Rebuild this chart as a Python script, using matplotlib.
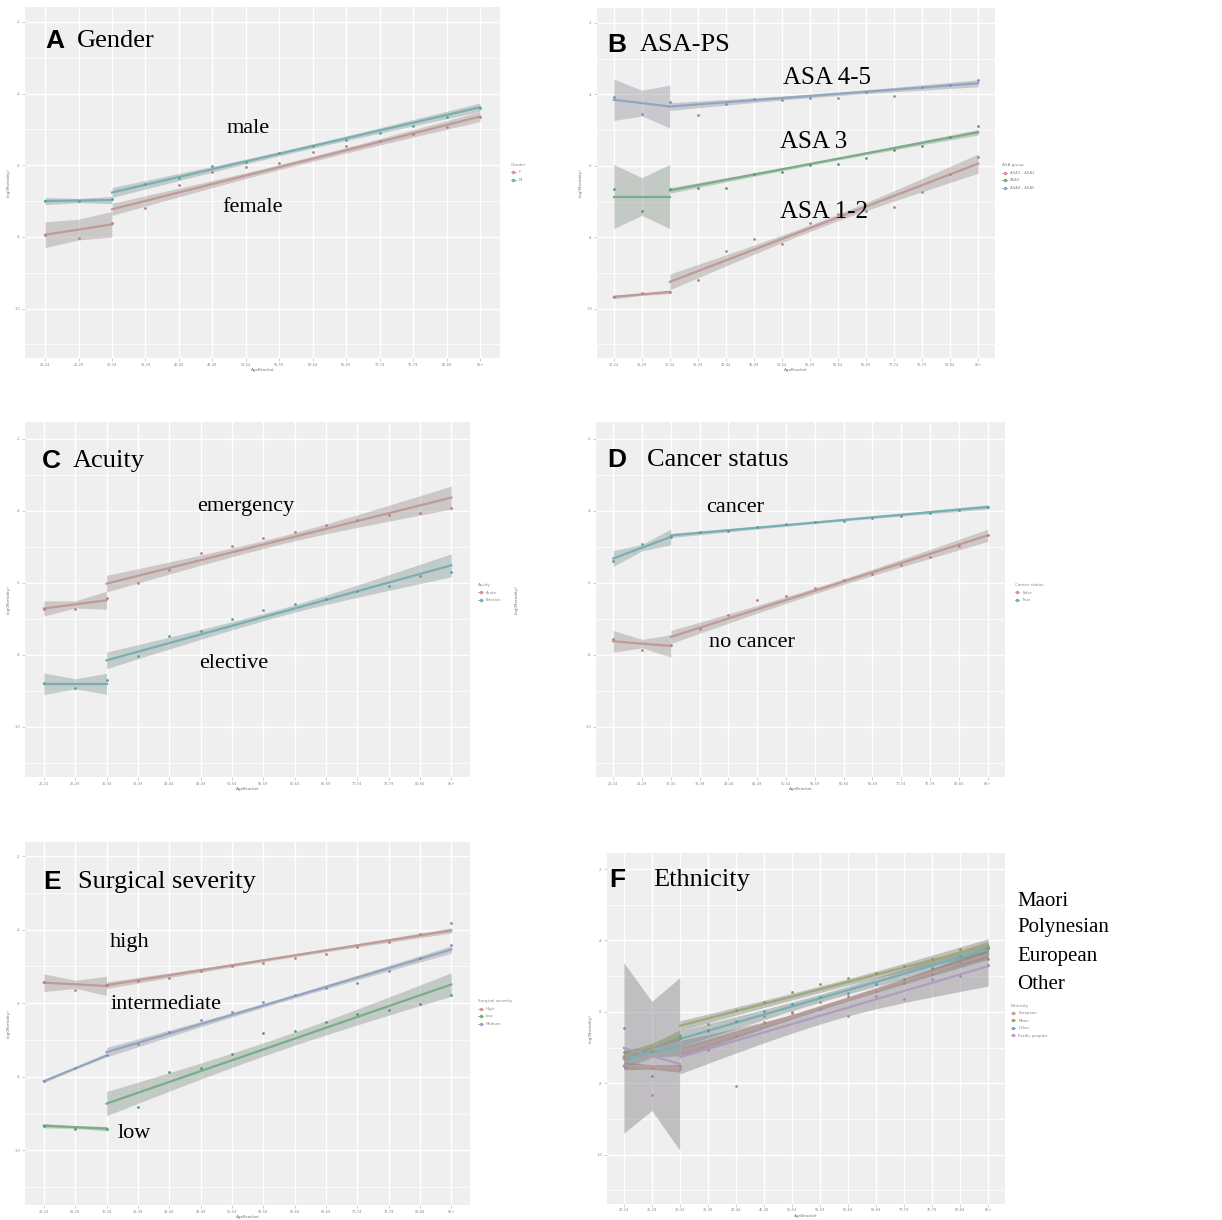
import numpy as np
import matplotlib.pyplot as plt
import matplotlib.colors as mcolors
from matplotlib.lines import Line2D

age_brackets = ["20-24", "25-29", "30-34", "35-39", "40-44", "45-49", "50-54",
                "55-59", "60-64", "65-69", "70-74", "75-79", "80-84", "85+"]
y_ticks = [-2, -4, -6, -8, -10]
y_minor = [-3, -5, -7, -9, -11]

# fit lines: [seg1 start, seg1 end, seg2 start, seg2 end]
# ci half widths: [seg1 start, seg1 mid, seg1 end, seg2 start, seg2 mid, seg2 end]

# A  Gender
gender_f = [-7.94, -8.02, -7.60, -7.18, -6.55, -6.18, -6.04, -5.94, -5.62, -5.45, -5.31, -5.13, -4.92, -4.66]
gender_m = [-7.00, -7.01, -6.95, -6.53, -6.36, -6.01, -5.90, -5.67, -5.45, -5.29, -5.11, -4.90, -4.66, -4.41]
gender_f_fit = [-7.94, -7.65, -7.23, -4.64]
gender_m_fit = [-7.00, -6.97, -6.76, -4.38]
gender_f_ci = [0.36, 0.29, 0.36, 0.17, 0.07, 0.14]
gender_m_ci = [0.10, 0.06, 0.10, 0.14, 0.06, 0.12]

# B  ASA-PS
asa12 = [-9.67, -9.57, -9.53, -9.20, -8.38, -8.04, -8.18, -7.60, -7.34, -7.27, -7.15, -6.73, -6.22, -5.74]
asa3 = [-6.66, -7.27, -6.66, -6.62, -6.61, -6.22, -6.16, -5.97, -5.94, -5.78, -5.55, -5.45, -5.18, -4.89]
asa45 = [-4.06, -4.55, -4.20, -4.58, -4.27, -4.13, -4.15, -4.10, -4.11, -3.94, -4.04, -3.79, -3.74, -3.60]
asa12_fit = [-9.67, -9.53, -9.25, -5.94]
asa3_fit = [-6.86, -6.86, -6.69, -5.06]
asa45_fit = [-4.15, -4.34, -4.34, -3.69]
asa12_ci = [0.05, 0.03, 0.05, 0.22, 0.09, 0.27]
asa3_ci = [0.90, 0.53, 0.90, 0.08, 0.04, 0.08]
asa45_ci = [0.58, 0.36, 0.60, 0.11, 0.05, 0.10]

# C  Acuity
acute = [-6.72, -6.72, -6.44, -6.00, -5.64, -5.18, -4.99, -4.75, -4.59, -4.39, -4.27, -4.13, -4.06, -3.92]
elective = [-8.78, -8.94, -8.71, -8.04, -7.49, -7.34, -7.00, -6.77, -6.60, -6.46, -6.23, -6.10, -5.82, -5.70]
acute_fit = [-6.72, -6.49, -6.03, -3.64]
elective_fit = [-8.81, -8.81, -8.16, -5.52]
acute_ci = [0.21, 0.10, 0.25, 0.23, 0.11, 0.32]
elective_ci = [0.30, 0.14, 0.29, 0.23, 0.10, 0.32]

# D  Cancer status
cancer_false = [-7.56, -7.86, -7.72, -7.28, -6.89, -6.47, -6.37, -6.14, -5.94, -5.75, -5.52, -5.29, -4.99, -4.67]
cancer_true = [-5.41, -4.92, -4.73, -4.59, -4.56, -4.45, -4.36, -4.31, -4.29, -4.20, -4.16, -4.08, -3.99, -3.90]
cancer_false_fit = [-7.63, -7.76, -7.51, -4.69]
cancer_true_fit = [-5.33, -4.73, -4.69, -3.90]
cancer_false_ci = [0.30, 0.12, 0.31, 0.18, 0.08, 0.17]
cancer_true_ci = [0.22, 0.09, 0.22, 0.06, 0.03, 0.06]

# E  Surgical severity
sev_high = [-5.42, -5.65, -5.51, -5.40, -5.31, -5.11, -4.99, -4.90, -4.77, -4.66, -4.47, -4.34, -4.12, -3.82]
sev_low = [-9.33, -9.41, -9.41, -8.82, -7.87, -7.76, -7.38, -6.82, -6.75, -6.50, -6.28, -6.19, -6.01, -5.78]
sev_medium = [-8.12, -7.76, -7.42, -7.11, -6.79, -6.45, -6.23, -5.98, -5.78, -5.58, -5.46, -5.11, -4.77, -4.41]
sev_high_fit = [-5.44, -5.53, -5.51, -4.02]
sev_low_fit = [-9.33, -9.41, -8.73, -5.49]
sev_medium_fit = [-8.12, -7.42, -7.33, -4.54]
sev_high_ci = [0.24, 0.11, 0.26, 0.09, 0.04, 0.07]
sev_low_ci = [0.06, 0.04, 0.06, 0.33, 0.18, 0.32]
sev_medium_ci = [0.04, 0.03, 0.04, 0.13, 0.05, 0.10]

# F  Ethnicity
eth_european = [-7.27, -7.58, -7.51, -7.06, -6.67, -6.28, -6.02, -5.72, -5.55, -5.41, -5.18, -4.95, -4.60, -4.53]
eth_maori = [-7.13, -7.09, -6.67, -6.34, -5.94, -5.72, -5.44, -5.21, -5.04, -4.90, -4.72, -4.51, -4.25, -4.18]
eth_other = [-6.44, -7.79, -6.74, -6.50, -6.25, -5.97, -5.77, -5.57, -5.48, -5.23, -5.09, -4.76, -4.44, -4.20]
eth_pacific = [-7.51, -8.34, -7.60, -6.53, -8.07, -6.11, -6.00, -5.93, -6.11, -5.55, -5.63, -5.09, -5.00, -4.70]
eth_european_fit = [-7.51, -7.58, -7.13, -4.39]
eth_maori_fit = [-7.25, -6.65, -6.39, -4.14]
eth_other_fit = [-7.32, -6.95, -6.76, -4.25]
eth_pacific_fit = [-7.01, -7.46, -7.27, -4.72]
eth_european_ci = [0.11, 0.06, 0.11, 0.14, 0.06, 0.14]
eth_maori_ci = [0.14, 0.07, 0.14, 0.14, 0.09, 0.19]
eth_other_ci = [0.28, 0.14, 0.28, 0.23, 0.11, 0.23]
eth_pacific_ci = [2.39, 1.53, 2.42, 0.47, 0.23, 0.56]

RED, TEAL = '#F8766D', '#00BFC4'
GREEN3, BLUE3 = '#00BA38', '#619CFF'
OLIVE, PURPLE = '#7CAE00', '#C77CFF'

SERIF = 'Liberation Serif'
SANS = 'Liberation Sans'


def fade(color, k, grey):
    # washed-out version of a ggplot colour, as in the scanned figure
    c = np.array(mcolors.to_rgb(color))
    return tuple(k * c + (1 - k) * grey)


fig = plt.figure(figsize=(12.22, 12.20), dpi=100)


def make_ax(rect, ylim):
    ax = fig.add_axes(rect)
    ax.set_facecolor('#efefef')
    ax.set_xlim(-0.6, 13.6)
    ax.set_ylim(*ylim)
    ax.set_xticks(range(14))
    ax.set_xticklabels(age_brackets, fontsize=2.5, color='#888888')
    ax.set_yticks(y_ticks)
    ax.set_yticklabels([str(v) for v in y_ticks], fontsize=2.5, color='#888888')
    ax.set_yticks(y_minor, minor=True)
    ax.tick_params(axis='both', which='major', length=2, width=0.5, color='#bbbbbb', pad=1.5)
    ax.tick_params(axis='y', which='minor', length=0)
    ax.grid(True, which='major', color='white', linewidth=1.0)
    ax.grid(True, which='minor', axis='y', color='white', linewidth=0.5)
    ax.set_axisbelow(True)
    for s in ax.spines.values():
        s.set_visible(False)
    ax.set_xlabel('AgeBracket', fontsize=3, color='#777777', labelpad=1)
    ax.set_ylabel('Log(Mortality)', fontsize=3, color='#777777', labelpad=3)
    return ax


def draw_group(ax, pts, fit, ci, color, band_alpha=0.36, tint=0.10):
    line_c = fade(color, 0.28, 0.66)
    band_c = fade(color, tint, 0.52)
    pt_c = fade(color, 0.40, 0.55)
    # first segment: brackets 0-2
    xs1 = np.array([0, 1, 2])
    y1 = np.array([fit[0], (fit[0] + fit[1]) / 2, fit[1]])
    w1 = np.array(ci[0:3])
    ax.fill_between(xs1, y1 - w1, y1 + w1, color=band_c, alpha=band_alpha, lw=0)
    ax.plot(xs1, y1, color=line_c, lw=1.6)
    # second segment: brackets 2-13
    xs2 = np.linspace(2, 13, 80)
    t = (xs2 - 2) / 11.0
    y2 = fit[2] + (fit[3] - fit[2]) * t
    u = 2 * t - 1
    wend = np.where(u < 0, ci[3], ci[5])
    w2 = np.sqrt(ci[4] ** 2 + (wend ** 2 - ci[4] ** 2) * u ** 2)
    ax.fill_between(xs2, y2 - w2, y2 + w2, color=band_c, alpha=band_alpha, lw=0)
    ax.plot(xs2, y2, color=line_c, lw=1.6)
    ax.scatter(range(14), pts, s=4, color=pt_c, lw=0, zorder=3)


def add_legend(ax, title, labels, colors, anchor):
    handles = [Line2D([0], [0], color=fade(c, 0.45, 0.7), marker='o', markersize=1.5, lw=0.6)
               for c in colors]
    leg = ax.legend(handles, labels, title=title, loc='upper left', bbox_to_anchor=anchor,
                    fontsize=2.8, title_fontsize=3, frameon=False, handlelength=1.2,
                    labelspacing=0.9, borderaxespad=0)
    leg._legend_box.align = 'left'
    for txt in leg.get_texts():
        txt.set_color('#888888')
    leg.get_title().set_color('#888888')


def label(ax, letter, title, x_title, y):
    ax.text(x_title[0], y, letter, transform=ax.transAxes, fontsize=19, fontweight='bold',
            family=SANS, va='center', ha='left')
    ax.text(x_title[1], y, title, transform=ax.transAxes, fontsize=19, family=SERIF,
            va='center', ha='left')


def note(ax, x, y, s, size=16):
    ax.text(x, y, s, transform=ax.transAxes, fontsize=size, family=SERIF,
            va='center', ha='left')


# ---- A Gender ----
axA = make_ax([0.0205, 0.7066, 0.3887, 0.2877], (-11.38, -1.58))
draw_group(axA, gender_f, gender_f_fit, gender_f_ci, RED)
draw_group(axA, gender_m, gender_m_fit, gender_m_ci, TEAL)
add_legend(axA, 'Gender', ['F', 'M'], [RED, TEAL], (1.02, 0.56))
label(axA, 'A', 'Gender', (0.042, 0.109), 0.903)
note(axA, 0.425, 0.655, 'male')
note(axA, 0.415, 0.430, 'female')

# ---- B ASA-PS ----
axB = make_ax([0.4885, 0.7066, 0.3257, 0.2869], (-11.38, -1.58))
draw_group(axB, asa12, asa12_fit, asa12_ci, RED)
draw_group(axB, asa3, asa3_fit, asa3_ci, GREEN3)
draw_group(axB, asa45, asa45_fit, asa45_ci, BLUE3)
add_legend(axB, 'ASA group', ['ASA1 - ASA2', 'ASA3', 'ASA4 - ASA5'],
           [RED, GREEN3, BLUE3], (1.015, 0.56))
label(axB, 'B', 'ASA-PS', (0.025, 0.108), 0.895)
note(axB, 0.467, 0.80, 'ASA 4-5', 18)
note(axB, 0.46, 0.617, 'ASA 3', 18)
note(axB, 0.46, 0.417, 'ASA 1-2', 18)

# ---- C Acuity ----
axC = make_ax([0.0205, 0.3631, 0.3642, 0.2910], (-11.40, -1.54))
draw_group(axC, acute, acute_fit, acute_ci, RED)
draw_group(axC, elective, elective_fit, elective_ci, TEAL)
add_legend(axC, 'Acuity', ['Acute', 'Elective'], [RED, TEAL], (1.015, 0.55))
label(axC, 'C', 'Acuity', (0.038, 0.108), 0.889)
note(axC, 0.387, 0.761, 'emergency')
note(axC, 0.391, 0.321, 'elective')

# ---- D Cancer status ----
axD = make_ax([0.4877, 0.3631, 0.3347, 0.2910], (-11.40, -1.54))
draw_group(axD, cancer_false, cancer_false_fit, cancer_false_ci, RED)
draw_group(axD, cancer_true, cancer_true_fit, cancer_true_ci, TEAL)
add_legend(axD, 'Cancer status', ['False', 'True'], [RED, TEAL], (1.02, 0.55))
axD.yaxis.set_label_coords(-0.19, 0.5)
label(axD, 'D', 'Cancer status', (0.027, 0.125), 0.893)
note(axD, 0.269, 0.758, 'cancer')
note(axD, 0.276, 0.380, 'no cancer')

# ---- E Surgical severity ----
axE = make_ax([0.0205, 0.0125, 0.3642, 0.2975], (-11.48, -1.61))
draw_group(axE, sev_high, sev_high_fit, sev_high_ci, RED)
draw_group(axE, sev_low, sev_low_fit, sev_low_ci, GREEN3)
draw_group(axE, sev_medium, sev_medium_fit, sev_medium_ci, BLUE3)
add_legend(axE, 'Surgical severity', ['High', 'Low', 'Medium'],
           [RED, GREEN3, BLUE3], (1.015, 0.57))
label(axE, 'E', 'Surgical severity', (0.040, 0.119), 0.890)
note(axE, 0.191, 0.723, 'high')
note(axE, 0.191, 0.553, 'intermediate')
note(axE, 0.207, 0.197, 'low')

# ---- F Ethnicity ----
axF = make_ax([0.4967, 0.0135, 0.3257, 0.2873], (-11.37, -1.55))
draw_group(axF, eth_pacific, eth_pacific_fit, eth_pacific_ci, PURPLE, 0.45, 0.03)
draw_group(axF, eth_european, eth_european_fit, eth_european_ci, RED, 0.55, 0.05)
draw_group(axF, eth_other, eth_other_fit, eth_other_ci, TEAL, 0.45, 0.05)
draw_group(axF, eth_maori, eth_maori_fit, eth_maori_ci, OLIVE, 0.45, 0.05)
add_legend(axF, 'Ethnicity', ['European', 'Maori', 'Other', 'Pacific peoples'],
           [RED, OLIVE, TEAL, PURPLE], (1.01, 0.575))
label(axF, 'F', 'Ethnicity', (0.005, 0.116), 0.923)
for yy, s in zip([0.861, 0.787, 0.705, 0.625], ['Maori', 'Polynesian', 'European', 'Other']):
    axF.text(1.03, yy, s, transform=axF.transAxes, fontsize=15, family=SERIF,
             va='center', ha='left', clip_on=False)

fig.savefig('out.png', dpi=100)
